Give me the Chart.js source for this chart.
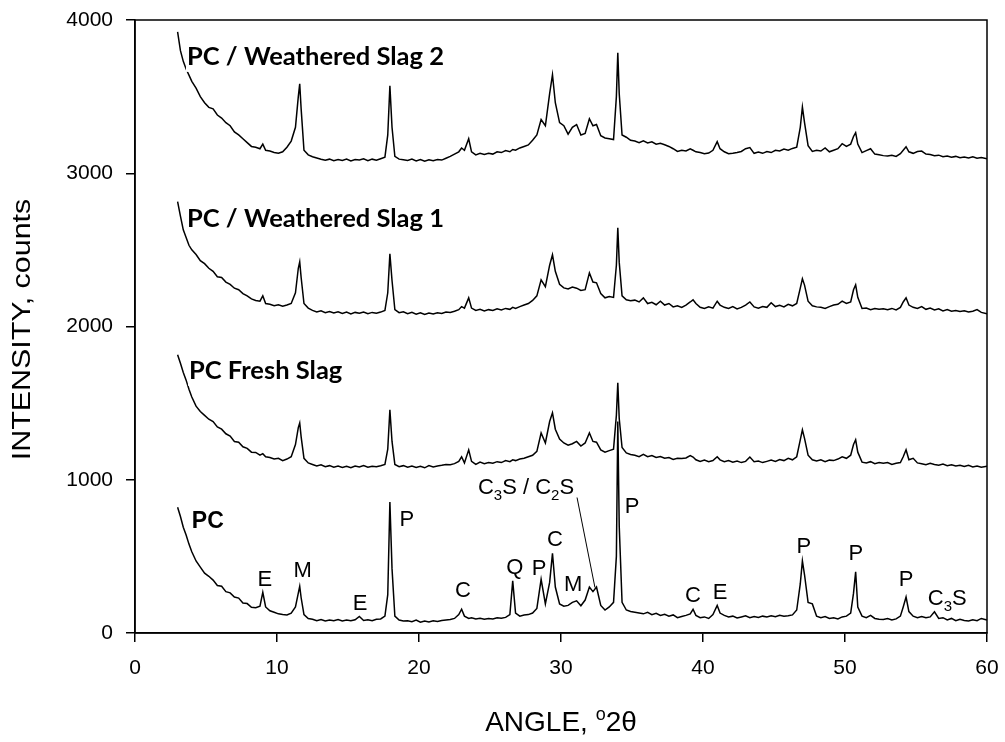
<!DOCTYPE html>
<html>
<head>
<meta charset="utf-8">
<script src="https://cdn.jsdelivr.net/npm/chart.js@4.4.0/dist/chart.umd.min.js"></script>
<style>
  html, body { margin: 0; padding: 0; background: #fff; }
  canvas { display: block; }
</style>
</head>
<body>
<canvas id="xrdChart" width="1005" height="742"></canvas>
<script>
// Diffraction angle, degrees 2-theta (shared by all four patterns)
const angles = [
  3.0, 3.2, 3.4, 3.6, 3.8, 4.0, 4.3, 4.6, 4.9, 5.2,
  5.5, 5.8, 6.1, 6.4, 6.7, 7.0, 7.3, 7.6, 7.9, 8.2,
  8.5, 8.8, 9.0, 9.2, 9.5, 9.8, 10.1, 10.4, 10.7, 11.0,
  11.3, 11.5, 11.6, 11.7, 11.9, 12.2, 12.5, 12.8, 13.1, 13.4,
  13.7, 14.0, 14.3, 14.6, 14.9, 15.2, 15.5, 15.8, 16.1, 16.4,
  16.7, 17.0, 17.3, 17.6, 17.8, 17.95, 18.1, 18.3, 18.6, 18.9,
  19.2, 19.5, 19.8, 20.1, 20.4, 20.7, 21.0, 21.3, 21.6, 21.9,
  22.2, 22.5, 22.8, 23.0, 23.2, 23.5, 23.7, 24.0, 24.3, 24.6,
  24.9, 25.2, 25.5, 25.8, 26.1, 26.4, 26.6, 26.8, 27.1, 27.4,
  27.7, 28.0, 28.3, 28.6, 28.9, 29.2, 29.4, 29.6, 29.9, 30.2,
  30.5, 30.8, 31.1, 31.4, 31.7, 32.0, 32.25, 32.5, 32.8, 33.1,
  33.4, 33.7, 33.9, 34.0, 34.1, 34.3, 34.6, 34.9, 35.2, 35.5,
  35.8, 36.1, 36.4, 36.7, 37.0, 37.3, 37.6, 37.9, 38.2, 38.5,
  38.8, 39.1, 39.3, 39.5, 39.8, 40.1, 40.4, 40.7, 41.0, 41.2,
  41.5, 41.8, 42.1, 42.4, 42.7, 43.0, 43.3, 43.6, 43.9, 44.2,
  44.5, 44.8, 45.1, 45.4, 45.7, 46.0, 46.3, 46.6, 46.85, 47.0,
  47.15, 47.4, 47.7, 48.0, 48.3, 48.6, 48.9, 49.2, 49.5, 49.8,
  50.1, 50.4, 50.6, 50.75, 50.9, 51.2, 51.5, 51.8, 52.1, 52.4,
  52.7, 53.0, 53.3, 53.6, 53.9, 54.1, 54.3, 54.5, 54.8, 55.1,
  55.4, 55.7, 56.0, 56.3, 56.6, 56.9, 57.2, 57.5, 57.8, 58.1,
  58.4, 58.7, 59.0, 59.3, 59.6, 60.0
];

// Intensity counts, one array per pattern (rows of ten match the angle rows)
const pcCounts = [
  820, 760, 690, 640, 580, 530, 470, 430, 390, 370,
  345, 310, 305, 270, 262, 235, 228, 196, 192, 168,
  165, 175, 265, 170, 145, 135, 125, 120, 118, 130,
  170, 260, 305, 230, 120, 95, 90, 80, 88, 78,
  85, 80, 88, 78, 84, 80, 86, 108, 82, 86,
  80, 90, 92, 110, 250, 855, 420, 110, 85, 78,
  80, 74, 84, 70, 78, 72, 80, 75, 82, 85,
  88, 95, 120, 155, 110, 95, 100, 92, 96, 90,
  95, 92, 100, 96, 102, 120, 340, 130, 110, 118,
  120, 130, 160, 350, 190, 330, 520, 300, 190, 175,
  180, 200, 210, 178, 215, 300, 270, 300, 180, 150,
  170, 200, 500, 1380, 700, 200, 150, 140, 135, 130,
  125, 135, 120, 128, 115, 122, 110, 118, 100, 108,
  115, 125, 155, 115, 100, 105, 95, 120, 180, 130,
  115, 105, 110, 98, 105, 112, 100, 108, 102, 110,
  104, 112, 106, 116, 110, 112, 118, 150, 320, 470,
  380, 200, 190, 110, 100, 108, 95, 100, 92, 105,
  110, 130, 260, 400, 170, 110, 100, 115, 95, 90,
  88, 95, 85, 92, 110, 170, 235, 140, 110, 100,
  108, 100, 105, 138, 95, 100, 85, 95, 80, 90,
  82, 78, 86, 80, 95, 85
];

const freshSlagCounts = [
  1815, 1760, 1700, 1650, 1590, 1540, 1480, 1445, 1420, 1395,
  1380, 1345, 1330, 1300, 1285, 1250, 1245, 1215, 1205, 1180,
  1178, 1160, 1170, 1150, 1145, 1135, 1140, 1125, 1135, 1150,
  1230, 1340, 1370, 1280, 1140, 1110, 1100, 1090, 1098, 1085,
  1092, 1082, 1090, 1080, 1088, 1078, 1090, 1084, 1092, 1082,
  1088, 1085, 1092, 1100, 1200, 1457, 1250, 1100, 1085, 1092,
  1082, 1090, 1080, 1088, 1078, 1092, 1084, 1090, 1094, 1100,
  1098, 1105, 1120, 1150, 1110, 1195, 1120, 1100, 1115, 1105,
  1112, 1108, 1118, 1112, 1125, 1118, 1130, 1125, 1135, 1140,
  1150, 1160, 1185, 1305, 1240, 1380, 1437, 1330, 1265, 1240,
  1225, 1235, 1250, 1220, 1240, 1305, 1250, 1245, 1195, 1180,
  1190, 1200, 1420, 1633, 1400, 1210, 1175, 1165, 1160, 1150,
  1165, 1150, 1158, 1145, 1152, 1140, 1145, 1132, 1140, 1138,
  1142, 1158, 1148, 1130, 1120, 1128, 1118, 1125, 1150, 1130,
  1118, 1125, 1115, 1122, 1112, 1120, 1148, 1118, 1122, 1112,
  1120, 1128, 1120, 1132, 1125, 1140, 1130, 1150, 1260, 1326,
  1270, 1160, 1130, 1122, 1130, 1118, 1128, 1125, 1135, 1150,
  1140, 1160, 1230, 1261, 1180, 1115, 1110, 1118, 1105, 1112,
  1108, 1112, 1100, 1108, 1112, 1150, 1196, 1130, 1140, 1110,
  1105, 1098, 1108, 1100, 1095, 1102, 1092, 1098, 1090, 1095,
  1086, 1094, 1084, 1090, 1082, 1088
];

const weathered1Counts = [
  2815, 2720, 2631, 2580, 2530, 2500, 2470, 2430, 2410, 2380,
  2360, 2325, 2320, 2290, 2275, 2250, 2240, 2215, 2200, 2180,
  2170, 2165, 2200, 2150, 2145, 2135, 2142, 2132, 2140, 2150,
  2220, 2380, 2422, 2320, 2150, 2120, 2105, 2095, 2102, 2090,
  2098, 2088, 2096, 2085, 2094, 2082, 2092, 2086, 2095, 2084,
  2092, 2086, 2094, 2105, 2220, 2474, 2300, 2110, 2090, 2096,
  2084, 2092, 2080, 2090, 2078, 2088, 2082, 2090, 2085, 2095,
  2092, 2100, 2110, 2130, 2120, 2187, 2120, 2105, 2112, 2102,
  2110, 2104, 2115, 2108, 2118, 2112, 2125, 2118, 2130, 2140,
  2150, 2170, 2200, 2304, 2260, 2400, 2468, 2360, 2275, 2252,
  2245, 2258, 2250, 2235, 2240, 2350, 2290, 2285, 2215, 2187,
  2195, 2190, 2400, 2644, 2420, 2200, 2174, 2168, 2172, 2160,
  2187, 2150, 2158, 2142, 2165, 2140, 2150, 2128, 2135, 2125,
  2140, 2160, 2174, 2150, 2125, 2118, 2128, 2120, 2165, 2140,
  2125, 2118, 2130, 2115, 2125, 2140, 2160, 2128, 2120, 2130,
  2125, 2155, 2130, 2138, 2128, 2145, 2135, 2150, 2250, 2311,
  2270, 2165, 2135, 2128, 2125, 2118, 2130, 2140, 2145, 2165,
  2150, 2160, 2240, 2272, 2190, 2118, 2120, 2110, 2118, 2112,
  2115, 2110, 2118, 2108, 2125, 2160, 2187, 2140, 2125, 2118,
  2130, 2112, 2120, 2108, 2115, 2102, 2110, 2100, 2105, 2098,
  2102, 2095, 2100, 2110, 2092, 2083
];

const weathered2Counts = [
  3923, 3800, 3730, 3680, 3640, 3600, 3555, 3500, 3460, 3430,
  3420, 3380, 3360, 3330, 3310, 3270, 3250, 3225, 3200, 3175,
  3170, 3160, 3190, 3150, 3145, 3135, 3130, 3140, 3170, 3210,
  3300, 3500, 3583, 3420, 3150, 3120, 3108, 3100, 3092, 3085,
  3092, 3082, 3090, 3084, 3092, 3080, 3090, 3086, 3094, 3082,
  3092, 3085, 3095, 3105, 3250, 3570, 3300, 3110, 3092, 3088,
  3084, 3092, 3080, 3090, 3078, 3088, 3082, 3090, 3086, 3098,
  3110, 3125, 3140, 3165, 3150, 3225, 3140, 3120, 3130, 3122,
  3130, 3125, 3140, 3135, 3148, 3140, 3155, 3150, 3165, 3175,
  3185, 3215, 3250, 3350, 3310, 3520, 3643, 3460, 3330, 3310,
  3255, 3300, 3318, 3250, 3260, 3356, 3310, 3318, 3245, 3230,
  3225, 3220, 3500, 3786, 3520, 3250, 3235, 3215, 3210, 3200,
  3212, 3198, 3205, 3190, 3195, 3186, 3175, 3160, 3142, 3150,
  3145, 3160, 3150, 3140, 3135, 3128, 3132, 3150, 3206, 3160,
  3140, 3128, 3130, 3135, 3142, 3160, 3168, 3130, 3138, 3130,
  3142, 3135, 3150, 3145, 3158, 3150, 3162, 3170, 3300, 3432,
  3330, 3180, 3142, 3150, 3145, 3165, 3140, 3150, 3160, 3193,
  3175, 3190, 3240, 3265, 3190, 3135, 3148, 3160, 3125, 3120,
  3115, 3112, 3118, 3110, 3128, 3150, 3173, 3140, 3130, 3142,
  3145, 3125, 3122, 3115, 3118, 3108, 3112, 3105, 3110, 3102,
  3106, 3100, 3108, 3098, 3102, 3095
];

// Axis ticks
const angleTicks = [0, 10, 20, 30, 40, 50, 60];
const countTicks = [0, 1000, 2000, 3000, 4000];

// Pattern names, drawn at the left end of each trace
const seriesNames = ['PC', 'PC Fresh Slag', 'PC / Weathered Slag 1', 'PC / Weathered Slag 2'];
const seriesNameAngle = [4.0, 3.8, 3.66, 3.66];
const seriesNameCounts = [687, 1659, 2650, 3707];

// Phase labels on the PC pattern (underscore marks a subscript digit)
const phaseText = ['E', 'M', 'E', 'P', 'C', 'Q', 'P', 'C', 'M', 'P', 'C', 'E', 'P', 'P', 'P', 'C_3S'];
const phaseAngle = [9.15, 11.8, 15.85, 19.15, 23.1, 26.75, 28.45, 29.58, 30.85, 35.0, 39.3, 41.2, 47.1, 50.77, 54.3, 57.2];
const phaseCounts = [304, 367, 147, 695, 237, 387, 380, 565, 271, 785, 204, 224, 524, 478, 309, 185];

const FONT = '"Liberation Sans", Arial, sans-serif';

// Draws text where "_3" becomes a subscript 3; align is 'left' or 'center'
function drawChem(ctx, text, x, y, size, align) {
    const parts = [];
    for (let i = 0; i < text.length; i++) {
        if (text[i] === '_') { parts.push([text[i + 1], true]); i++; }
        else parts.push([text[i], false]);
    }
    const fontFor = sub => (sub ? Math.round(size * 0.68) : size) + 'px ' + FONT;
    let width = 0;
    parts.forEach(p => { ctx.font = fontFor(p[1]); width += ctx.measureText(p[0]).width; });
    let cx = align === 'center' ? x - width / 2 : x;
    ctx.textAlign = 'left';
    ctx.textBaseline = 'alphabetic';
    parts.forEach(p => {
        ctx.font = fontFor(p[1]);
        ctx.fillText(p[0], cx, p[1] ? y + size * 0.28 : y);
        cx += ctx.measureText(p[0]).width;
    });
}

const annotate = {
    id: 'annotate',
    afterDatasetsDraw(chart) {
        const { ctx, chartArea: a } = chart;
        const xs = chart.scales.x, ys = chart.scales.y;
        ctx.save();
        ctx.fillStyle = '#000';

        // plot frame
        ctx.strokeStyle = '#000';
        ctx.lineWidth = 1.5;
        ctx.strokeRect(a.left, a.top, a.right - a.left, a.bottom - a.top);

        // pattern names with a white box behind them
        seriesNames.forEach((name, i) => {
            const px = xs.getPixelForValue(seriesNameAngle[i]);
            const py = ys.getPixelForValue(seriesNameCounts[i]);
            ctx.font = i === 0 ? 'bold 23px ' + FONT : 'bold 25.5px Lato, "Open Sans", sans-serif';
            const w = ctx.measureText(name).width;
            if (i > 0) {
                ctx.fillStyle = '#fff';
                ctx.fillRect(px - 1, py - 23, w + 14, 30);
                ctx.fillStyle = '#000';
            }
            ctx.textAlign = 'left';
            ctx.textBaseline = 'alphabetic';
            ctx.fillText(name, px, py);
        });

        // phase letters
        phaseText.forEach((t, i) => {
            drawChem(ctx, t, xs.getPixelForValue(phaseAngle[i]), ys.getPixelForValue(phaseCounts[i]), 22, 'center');
        });

        // C3S / C2S label with its leader line
        drawChem(ctx, 'C_3S / C_2S', xs.getPixelForValue(24.15), ys.getPixelForValue(909), 22, 'left');
        ctx.lineWidth = 1;
        ctx.beginPath();
        ctx.moveTo(xs.getPixelForValue(31.13), ys.getPixelForValue(884));
        ctx.lineTo(xs.getPixelForValue(32.39), ys.getPixelForValue(297));
        ctx.stroke();

        // x axis title with superscript degree mark
        ctx.font = '28px ' + FONT;
        const t1 = 'ANGLE, ', t3 = '2\u03b8';
        const w1 = ctx.measureText(t1).width, w3 = ctx.measureText(t3).width;
        ctx.font = '18px ' + FONT;
        const w2 = ctx.measureText('o').width;
        const tx = (a.left + a.right) / 2 - (w1 + w2 + w3) / 2;
        const ty = 731;
        ctx.textAlign = 'left';
        ctx.font = '28px ' + FONT;
        ctx.fillText(t1, tx, ty);
        ctx.font = '18px ' + FONT;
        ctx.fillText('o', tx + w1, ty - 11);
        ctx.font = '28px ' + FONT;
        ctx.fillText(t3, tx + w1 + w2, ty);

        // y axis title, stretched along its length like the original
        ctx.translate(23, (a.top + a.bottom) / 2 + 3);
        ctx.rotate(-Math.PI / 2);
        ctx.scale(1.17, 1);
        ctx.textAlign = 'center';
        ctx.textBaseline = 'middle';
        ctx.font = '26px ' + FONT;
        ctx.fillText('INTENSITY, counts', 0, 0);
        ctx.restore();
    }
};

const toPoints = counts => angles.map((a, i) => ({ x: a, y: counts[i] }));
const traceStyle = { borderColor: '#000', borderWidth: 1.5, pointRadius: 0, fill: false, tension: 0 };

new Chart(document.getElementById('xrdChart'), {
    type: 'line',
    data: {
        datasets: [
            { label: 'PC', data: toPoints(pcCounts), ...traceStyle },
            { label: 'PC Fresh Slag', data: toPoints(freshSlagCounts), ...traceStyle },
            { label: 'PC / Weathered Slag 1', data: toPoints(weathered1Counts), ...traceStyle },
            { label: 'PC / Weathered Slag 2', data: toPoints(weathered2Counts), ...traceStyle }
        ]
    },
    options: {
        responsive: false,
        animation: false,
        devicePixelRatio: 1,
        layout: { padding: { top: 20, right: 18, left: 0, bottom: 0 } },
        plugins: { legend: { display: false }, tooltip: { enabled: false } },
        scales: {
            x: {
                type: 'linear',
                min: angleTicks[0],
                max: angleTicks[angleTicks.length - 1],
                afterBuildTicks: s => { s.ticks = angleTicks.map(v => ({ value: v })); },
                // fixed axis band; label overhang must not shrink the plot
                afterFit: s => { s.height = 109; s.paddingLeft = 0; s.paddingRight = 0; },
                ticks: { color: '#000', font: { family: FONT, size: 21 }, padding: 14, maxRotation: 0, callback: v => String(v) },
                grid: { drawOnChartArea: false, color: '#000', tickLength: 9, lineWidth: 1.5 },
                border: { color: '#000', width: 1.5 }
            },
            y: {
                min: countTicks[0],
                max: countTicks[countTicks.length - 1],
                afterBuildTicks: s => { s.ticks = countTicks.map(v => ({ value: v })); },
                afterFit: s => { s.width = 135; s.paddingTop = 0; s.paddingBottom = 0; },
                ticks: { color: '#000', font: { family: FONT, size: 21 }, padding: 13, callback: v => String(v) },
                grid: { drawOnChartArea: false, color: '#000', tickLength: 9, lineWidth: 1.5 },
                border: { color: '#000', width: 1.5 }
            }
        }
    },
    plugins: [annotate]
});
</script>
</body>
</html>
